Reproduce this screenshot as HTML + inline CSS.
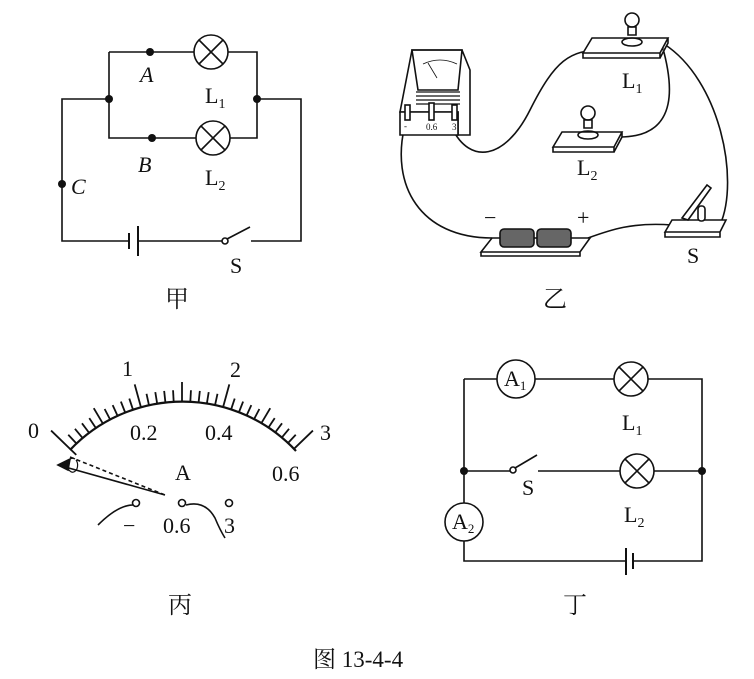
<!DOCTYPE html>
<html><head><meta charset="utf-8"><style>
html,body{margin:0;padding:0;background:#fff;}
svg{display:block;}
text{font-family:"Liberation Serif","Noto Serif CJK SC",serif;fill:#111;}
.c{font-family:"Liberation Serif","Noto Serif CJK SC","Noto Sans CJK SC",serif;}
</style></head><body>
<svg width="754" height="679" viewBox="0 0 754 679" xmlns="http://www.w3.org/2000/svg">
<g stroke="#111" stroke-width="1.6" fill="none">
<!-- 甲 -->
<path d="M109 52 H194 M228 52 H257 V138 H230 M196 138 H109 V52 M109 99 H62 V241 H129 M138 241 H225 M251 241 H301 V99 H257"/>
<circle cx="211" cy="52" r="17"/><path d="M199 40 L223 64 M223 40 L199 64"/>
<circle cx="213" cy="138" r="17"/><path d="M201 126 L225 150 M225 126 L201 150"/>
<path d="M129 233 V249 M138 226 V256" stroke-width="2"/>
<circle cx="225" cy="241" r="3" fill="#fff"/><path d="M227 239 L250 227"/>
<!-- 丁 -->
<path d="M464 379 H497 M535 379 H614 M648 379 H702 V561 H633 M626 561 H464 V541 M464 503 V379 M464 471 H510 M538 471 H620 M654 471 H702"/>
<circle cx="516" cy="379" r="19"/><circle cx="464" cy="522" r="19"/>
<circle cx="631" cy="379" r="17"/><path d="M619 367 L643 391 M643 367 L619 391"/>
<circle cx="637" cy="471" r="17"/><path d="M625 459 L649 483 M649 459 L625 483"/>
<path d="M626 548 V575 M633 553 V569" stroke-width="2"/>
<circle cx="513" cy="470" r="3" fill="#fff"/><path d="M515 468 L537 455"/>
<!-- 乙 wires -->
<path d="M405 125 C390 185,420 238,492 238"/>
<path d="M452 128 C470 165,505 160,530 110 S570 50,602 50"/>
<path d="M662 45 C672 80,682 137,620 137"/>
<path d="M664 44 C720 80,740 180,720 225"/>
<path d="M588 238 C610 230,632 222,672 225"/>
<!-- ammeter -->
<path d="M400 112 L412 50 H462 L470 70 V135 H458 V112 Z" fill="#fff"/>
<path d="M412 50 L462 50 L458 90 L418 90 Z"/>
<path d="M416 92 H460 M416 96 H460 M416 100 H460 M416 104 H460" stroke-width="1.2"/>
<path d="M400 112 H458 V135 H400 Z" fill="#fff"/>
<path d="M423 64 Q440 56 457 64" stroke-width="0.8"/><path d="M428 63 L437 78" stroke-width="0.8"/>
<rect x="405" y="105" width="5" height="15" fill="#fff"/><rect x="429" y="103" width="5" height="17" fill="#fff"/><rect x="452" y="105" width="5" height="15" fill="#fff"/>
<!-- L1 board -->
<path d="M583 53 L592 38 H668 L660 53 Z M583 53 V58 H660 V53 M660 58 L668 43 V38" fill="#fff"/>
<circle cx="632" cy="20" r="7" fill="#fff"/><path d="M628 27 h8 v8 h-8 z"/><ellipse cx="632" cy="42" rx="10" ry="4"/>
<!-- L2 board -->
<path d="M553 147 L562 132 H622 L614 147 Z M553 147 V152 H614 V147 M614 152 L622 137 V132" fill="#fff"/>
<circle cx="588" cy="113" r="7" fill="#fff"/><path d="M584 120 h8 v8 h-8 z"/><ellipse cx="588" cy="135" rx="10" ry="4"/>
<!-- battery -->
<path d="M481 252 L492 238 H590 L580 252 Z M481 252 V256 H580 V252" fill="#fff"/>
<rect x="500" y="229" width="34" height="18" rx="4" fill="#666"/><rect x="537" y="229" width="34" height="18" rx="4" fill="#666"/>
<!-- switch -->
<path d="M665 232 L672 220 H726 L720 232 Z M665 232 V237 H720 V232" fill="#fff"/>
<path d="M682 218 L707 185 L711 188 L688 220 Z" fill="#fff"/><rect x="698" y="206" width="7" height="15" rx="3" fill="#fff"/>
<!-- 丙 meter -->
<path d="M70 450 A155 155 0 0 1 296 451" stroke-width="2.2"/>
<path d="M58 465 L165 495" /><path d="M70 457 L165 495" stroke-dasharray="4 3"/>
<path d="M58 465 L70 459 L68 470 Z" fill="#111"/>
<path d="M75 459 A5 7 0 1 0 76 460" stroke-width="1.2"/>
<circle cx="136" cy="503" r="3.5"/><circle cx="182" cy="503" r="3.5"/><circle cx="229" cy="503" r="3.5"/>
<path d="M98 525 Q118 505 133 505 M186 505 Q205 500 215 518 Q220 530 225 538"/>
</g>
<!-- dots -->
<g fill="#111">
<circle cx="150" cy="52" r="4"/><circle cx="152" cy="138" r="4"/><circle cx="109" cy="99" r="4"/><circle cx="257" cy="99" r="4"/><circle cx="62" cy="184" r="4"/>
<circle cx="464" cy="471" r="4"/><circle cx="702" cy="471" r="4"/>
</g>
<g stroke="#111" stroke-width="1.8">
<line x1="182" y1="410" x2="182" y2="375" transform="rotate(-46 182 557)"/>
<line x1="182" y1="402" x2="182" y2="390" transform="rotate(-42.93 182 557)"/>
<line x1="182" y1="402" x2="182" y2="390" transform="rotate(-39.87 182 557)"/>
<line x1="182" y1="402" x2="182" y2="390" transform="rotate(-36.8 182 557)"/>
<line x1="182" y1="402" x2="182" y2="390" transform="rotate(-33.73 182 557)"/>
<line x1="182" y1="402" x2="182" y2="384" transform="rotate(-30.67 182 557)"/>
<line x1="182" y1="402" x2="182" y2="390" transform="rotate(-27.6 182 557)"/>
<line x1="182" y1="402" x2="182" y2="390" transform="rotate(-24.53 182 557)"/>
<line x1="182" y1="402" x2="182" y2="390" transform="rotate(-21.47 182 557)"/>
<line x1="182" y1="402" x2="182" y2="390" transform="rotate(-18.4 182 557)"/>
<line x1="182" y1="402" x2="182" y2="378" transform="rotate(-15.33 182 557)"/>
<line x1="182" y1="402" x2="182" y2="390" transform="rotate(-12.27 182 557)"/>
<line x1="182" y1="402" x2="182" y2="390" transform="rotate(-9.2 182 557)"/>
<line x1="182" y1="402" x2="182" y2="390" transform="rotate(-6.13 182 557)"/>
<line x1="182" y1="402" x2="182" y2="390" transform="rotate(-3.07 182 557)"/>
<line x1="182" y1="402" x2="182" y2="382"/>
<line x1="182" y1="402" x2="182" y2="390" transform="rotate(3.07 182 557)"/>
<line x1="182" y1="402" x2="182" y2="390" transform="rotate(6.13 182 557)"/>
<line x1="182" y1="402" x2="182" y2="390" transform="rotate(9.2 182 557)"/>
<line x1="182" y1="402" x2="182" y2="390" transform="rotate(12.27 182 557)"/>
<line x1="182" y1="402" x2="182" y2="378" transform="rotate(15.33 182 557)"/>
<line x1="182" y1="402" x2="182" y2="390" transform="rotate(18.4 182 557)"/>
<line x1="182" y1="402" x2="182" y2="390" transform="rotate(21.47 182 557)"/>
<line x1="182" y1="402" x2="182" y2="390" transform="rotate(24.53 182 557)"/>
<line x1="182" y1="402" x2="182" y2="390" transform="rotate(27.6 182 557)"/>
<line x1="182" y1="402" x2="182" y2="384" transform="rotate(30.67 182 557)"/>
<line x1="182" y1="402" x2="182" y2="390" transform="rotate(33.73 182 557)"/>
<line x1="182" y1="402" x2="182" y2="390" transform="rotate(36.8 182 557)"/>
<line x1="182" y1="402" x2="182" y2="390" transform="rotate(39.87 182 557)"/>
<line x1="182" y1="402" x2="182" y2="390" transform="rotate(42.93 182 557)"/>
<line x1="182" y1="402" x2="182" y2="375" transform="rotate(46 182 557)"/>
</g>
<!-- labels -->
<g font-size="22">
<text x="140" y="82" font-style="italic">A</text>
<text x="138" y="172" font-style="italic">B</text>
<text x="71" y="194" font-style="italic">C</text>
<text x="205" y="103">L<tspan font-size="14" dy="5">1</tspan></text>
<text x="205" y="185">L<tspan font-size="14" dy="5">2</tspan></text>
<text x="230" y="273">S</text>
<text x="622" y="88">L<tspan font-size="14" dy="5">1</tspan></text>
<text x="577" y="175">L<tspan font-size="14" dy="5">2</tspan></text>
<text x="687" y="263">S</text>
<text x="484" y="225">−</text><text x="577" y="225">+</text>
<text x="622" y="430">L<tspan font-size="14" dy="5">1</tspan></text>
<text x="624" y="522">L<tspan font-size="14" dy="5">2</tspan></text>
<text x="522" y="495">S</text>
<text x="504" y="386">A<tspan font-size="13" dy="4">1</tspan></text>
<text x="452" y="529">A<tspan font-size="13" dy="4">2</tspan></text>
<text x="28" y="438">0</text><text x="122" y="376">1</text><text x="230" y="377">2</text><text x="320" y="440">3</text>
<text x="130" y="440">0.2</text><text x="205" y="440">0.4</text><text x="272" y="481">0.6</text>
<text x="175" y="480">A</text>
<text x="123" y="533">−</text><text x="163" y="533">0.6</text><text x="224" y="533">3</text>
</g>
<g class="c" font-size="24">
<text x="165" y="307">甲</text><text x="543" y="307">乙</text>
<text x="168" y="613">丙</text><text x="563" y="613">丁</text>
<text x="313" y="667" font-size="23">图 13-4-4</text>
</g>
<text x="404" y="129" font-size="9">-</text><text x="426" y="130" font-size="9">0.6</text><text x="452" y="130" font-size="9">3</text>
</svg>
</body></html>
